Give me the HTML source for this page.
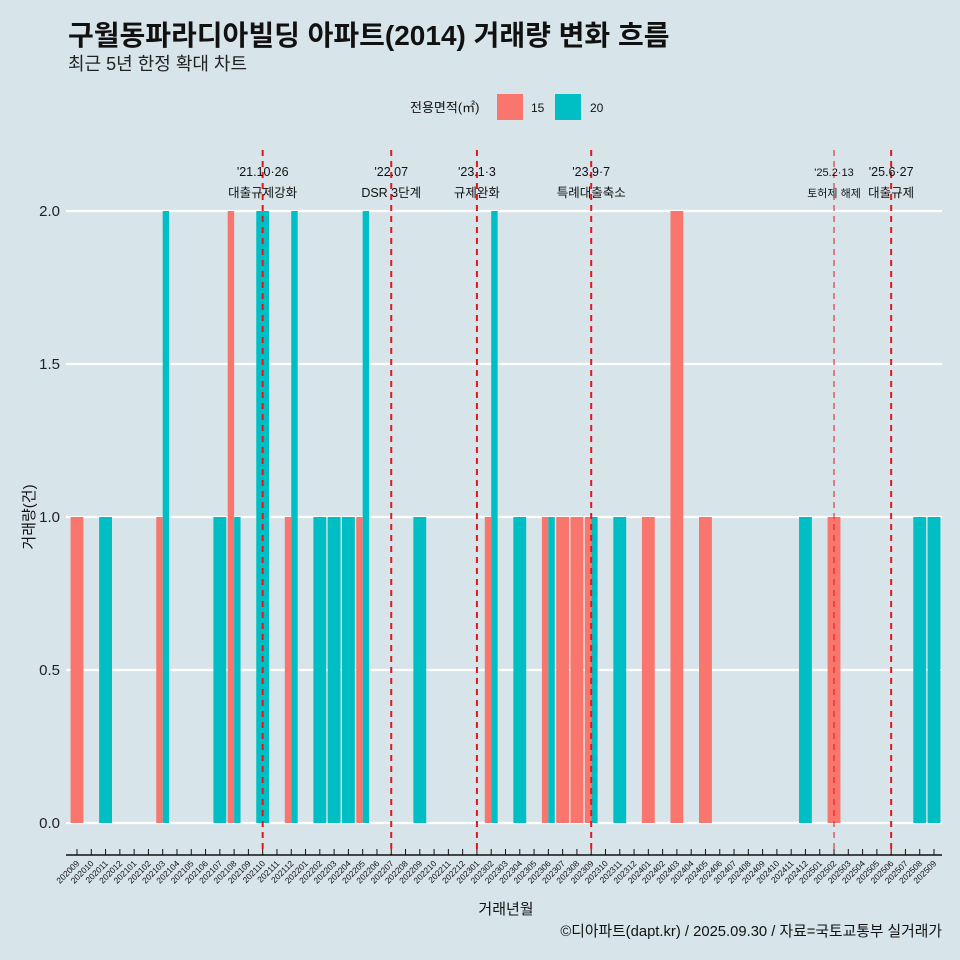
<!DOCTYPE html>
<html><head><meta charset="utf-8"><style>
body{margin:0;background:#d7e4ea;}
svg{display:block;font-family:"Liberation Sans","Noto Sans CJK KR",sans-serif;}
</style></head><body>
<svg id="c" width="960" height="960" viewBox="0 0 960 960">
<rect width="960" height="960" fill="#d7e4ea"/>
<text x="68" y="45" font-size="28" font-weight="bold" fill="#111">구월동파라디아빌딩 아파트(2014) 거래량 변화 흐름</text>
<text x="68" y="70" font-size="18" fill="#222">최근 5년 한정 확대 차트</text>
<g>
<text x="410" y="112" font-size="13" fill="#111">전용면적(㎡)</text>
<rect x="497" y="94" width="26" height="26" fill="#f8766d"/>
<text x="531" y="112" font-size="12" fill="#111">15</text>
<rect x="555" y="94" width="26" height="26" fill="#00bfc4"/>
<text x="590" y="112" font-size="12" fill="#111">20</text>
</g>
<g id="grid"></g><g id="bars"></g><g id="events"></g><g id="axes"></g>
<text x="506" y="914" text-anchor="middle" font-size="15" fill="#111">거래년월</text>
<text x="34" y="517" text-anchor="middle" font-size="15" fill="#111" transform="rotate(-90 34 517)">거래량(건)</text>
<text x="942" y="936" text-anchor="end" font-size="14.8" fill="#111">©디아파트(dapt.kr) / 2025.09.30 / 자료=국토교통부 실거래가</text>
</svg>
<script>
const months=[];for(let y=2020,m=9;!(y==2025&&m==10);){months.push(''+y+(m<10?'0':'')+m);m++;if(m>12){m=1;y++;}}
const s15Months=['202009','202103','202108','202112','202205','202302','202306','202307','202308','202309','202401','202403','202405','202502'];
const s15Values=[1,1,2,1,1,1,1,1,1,1,1,2,1,1];
const s20Months=['202011','202103','202107','202108','202110','202112','202202','202203','202204','202205','202209','202302','202304','202306','202309','202311','202412','202508','202509'];
const s20Values=[1,2,1,1,2,2,1,1,1,2,1,2,1,1,1,1,1,1,1];
const yTicks=[0,0.5,1,1.5,2];
const yTickLabels=['0.0','0.5','1.0','1.5','2.0'];
const eventMonths=['202110','202207','202301','202309','202502','202506'];
const eventDates=["'21.10·26","'22.07","'23.1·3","'23.9·7","'25.2·13","'25.6·27"];
const eventLabels=['대출규제강화','DSR 3단계','규제완화','특례대출축소','토허제 해제','대출규제'];
const NS='http://www.w3.org/2000/svg';
const x0=77,dx=(934-77)/60,y0=823,ky=306;
const X=m=>x0+months.indexOf(m)*dx, Y=v=>y0-v*ky;
function mk(t,a,p){const e=document.createElementNS(NS,t);for(const k in a)e.setAttribute(k,a[k]);p.appendChild(e);return e;}
const g=document.getElementById('grid'),b=document.getElementById('bars'),ev=document.getElementById('events'),ax=document.getElementById('axes');
yTicks.forEach((t,i)=>{
 const l=mk('line',{x1:66,x2:942,y1:Y(t),y2:Y(t),stroke:'#fff','stroke-width':2.2},g);
 
 
 const tx=mk('text',{x:60,y:Y(t)+5,'text-anchor':'end','font-size':15,fill:'#222'},ax);tx.textContent=yTickLabels[i];
 
 
});
const bw=dx*0.9;
function draw(ms,vs,col,isFirst){
 ms.forEach((m,i)=>{
  const both=s15Months.includes(m)&&s20Months.includes(m);
  let x=X(m)-bw/2,w=bw;
  if(both){w=bw/2;if(!isFirst)x+=bw/2;}
  const r=mk('rect',{x:x,y:Y(vs[i]),width:w,height:vs[i]*ky,fill:col},b);
  
  
 });
}
draw(s15Months,s15Values,'#f8766d',true);
draw(s20Months,s20Values,'#00bfc4',false);
eventMonths.forEach((m,i)=>{
 const x=X(m),thin=m==='202502';
 const l=mk('line',{x1:x,x2:x,y1:150,y2:855,stroke:'#e8141c','stroke-width':thin?1:2,'stroke-dasharray':'6,5'},ev);
 
 
 const fs=thin?11:12.5;
 const t1=mk('text',{x:x,y:176,'text-anchor':'middle','font-size':fs,fill:'#111'},ev);t1.textContent=eventDates[i];
 
 
 const t2=mk('text',{x:x,y:197,'text-anchor':'middle','font-size':fs,fill:'#111'},ev);t2.textContent=eventLabels[i];
 
 
});
const al=mk('line',{x1:66,x2:942,y1:855,y2:855,stroke:'#111','stroke-width':1.5},ax);


months.forEach(m=>{
 const x=X(m);
 const tk=mk('line',{x1:x,x2:x,y1:849,y2:855,stroke:'#111','stroke-width':1},ax);
 
 
 const t=mk('text',{x:x+3,y:864,'text-anchor':'end','font-size':8.5,fill:'#111',transform:`rotate(-45 ${x+3} 864)`},ax);t.textContent=m;
 
 
});
</script>
</body></html>
